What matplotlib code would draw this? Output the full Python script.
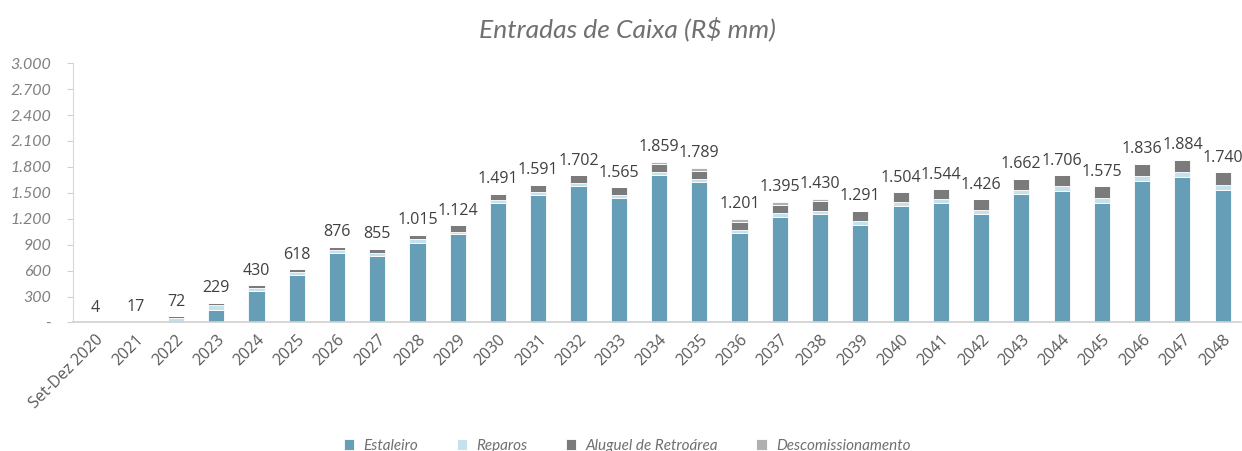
import matplotlib
matplotlib.use("Agg")
import matplotlib.pyplot as plt
import numpy as np

categories = ["Set-Dez 2020", "2021", "2022", "2023", "2024", "2025", "2026", "2027", "2028", "2029",
              "2030", "2031", "2032", "2033", "2034", "2035", "2036", "2037", "2038", "2039",
              "2040", "2041", "2042", "2043", "2044", "2045", "2046", "2047", "2048"]
estaleiro = [0, 0, 0, 144, 364, 552, 807, 774, 925, 1020,
             1379, 1479, 1582, 1445, 1704, 1623, 1031, 1222, 1253, 1133,
             1342, 1382, 1256, 1489, 1525, 1386, 1639, 1683, 1535]
reparos = [2, 5, 50, 54, 35, 35, 27, 27, 35, 31,
           35, 31, 35, 31, 39, 39, 39, 42, 42, 46,
           46, 46, 50, 46, 50, 54, 58, 58, 58]
aluguel = [2, 12, 22, 31, 31, 31, 42, 54, 55, 73,
           77, 81, 85, 89, 89, 96, 96, 100, 108, 112,
           116, 116, 120, 127, 131, 135, 139, 143, 147]
descom = [0, 0, 0, 0, 0, 0, 0, 0, 0, 0,
          0, 0, 0, 0, 27, 31, 35, 31, 27, 0,
          0, 0, 0, 0, 0, 0, 0, 0, 0]
totals = [4, 17, 72, 229, 430, 618, 876, 855, 1015, 1124,
          1491, 1591, 1702, 1565, 1859, 1789, 1201, 1395, 1430, 1291,
          1504, 1544, 1426, 1662, 1706, 1575, 1836, 1884, 1740]
series_names = ["Estaleiro", "Reparos", "Aluguel de Retroárea", "Descomissionamento"]
colors = ["#659EB6", "#C5E2EC", "#7B7B7B", "#B0B0B0"]

def fmt(v):
    return f"{v:,}".replace(",", ".")

fig = plt.figure(figsize=(12.42, 4.51), dpi=100)
ax = fig.add_axes([0.059, 0.285, 0.94, 0.575])

x = np.arange(len(categories))
bottom = np.zeros(len(categories))
for vals, name, c in zip([estaleiro, reparos, aluguel, descom], series_names, colors):
    v = np.array(vals, dtype=float)
    ax.bar(x, v, width=0.4, bottom=bottom, color=c, label=name,
           edgecolor="white", linewidth=0.6)
    bottom += v

stack_top = bottom
for xi, top, t in zip(x, stack_top, totals):
    ax.text(xi, max(top, t) + 75, fmt(t), ha="center", va="bottom",
            fontsize=11.5, color="#404040", family="Open Sans")

ax.set_xlim(-0.55, 28.45)
ax.set_ylim(0, 3000)
yt = np.arange(0, 3001, 300)
ax.set_yticks(yt)
ax.set_yticklabels(["-"] + [fmt(int(v)) for v in yt[1:]], fontsize=11.5,
                   color="#808080", family="Lato", style="italic")
ax.set_xticks(x)
ax.set_xticklabels(categories, rotation=45, ha="right", rotation_mode="anchor",
                   fontsize=11.5, color="#595959", family="Open Sans")
ax.tick_params(axis="x", length=0, pad=7)
ax.tick_params(axis="y", length=4, color="#D0D0D0", pad=12)
for s in ["top", "right"]:
    ax.spines[s].set_visible(False)
ax.spines["left"].set_color("#D9D9D9")
ax.spines["bottom"].set_color("#D0D0D0")
ax.spines["bottom"].set_linewidth(1.2)

fig.text(0.505, 0.935, "Entradas de Caixa (R$ mm)", ha="center", va="center",
         fontsize=19, color="#707070", family="Lato", style="italic")

leg = fig.legend(loc="lower center", bbox_to_anchor=(0.505, -0.035), ncol=4, frameon=False,
                 handlelength=0.7, handleheight=0.7, columnspacing=2.5, handletextpad=0.6,
                 prop={"family": "Lato", "style": "italic", "size": 11})
for t in leg.get_texts():
    t.set_color("#707070")

fig.savefig("out.png", dpi=100)
